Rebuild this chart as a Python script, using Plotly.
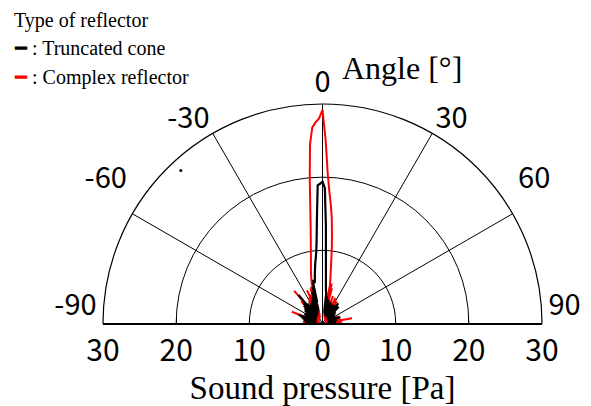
import plotly.graph_objects as go

# ---------------- data ----------------
angles_deg = list(range(-90, 91))  # measurement angles, 1 degree steps

complex_reflector = [
    0.6, 1.2, 0.5, 0.9, 0.4, 2.7, 0.6, 1.0, 0.5, 1.4,   # -90..-81
    2.0, 0.5, 0.8, 0.4, 2.5, 0.7, 1.1, 0.5, 3.2, 0.8,   # -80..-71
    0.6, 4.5, 0.7, 1.2, 0.5, 2.2, 0.6, 1.3, 0.5, 0.9,   # -70..-61
    2.0, 0.6, 1.4, 0.5, 1.0, 2.6, 0.7, 1.3, 0.6, 1.1,   # -60..-51
    3.0, 0.7, 1.2, 3.5, 0.6, 1.5, 4.2, 0.8, 1.0, 5.9,   # -50..-41
    1.0, 0.7, 3.4, 0.8, 1.2, 3.0, 0.7, 1.5, 0.8, 3.6,   # -40..-31
    0.9, 1.4, 4.0, 0.8, 1.6, 5.0, 1.0, 1.3, 4.3, 0.9,   # -30..-21
    1.5, 5.1, 1.2, 5.3, 1.6, 5.7, 6.3, 7.0, 7.6, 8.3,   # -20..-11
    9.1, 10.2, 11.5, 13.3, 16.0, 20.0, 24.5, 26.8, 27.5, 28.0,  # -10..-1
    29.2,                                               # 0
    25.0, 20.5, 18.0, 16.3, 14.5, 12.4, 10.5, 8.6, 7.2, 6.2,    # 1..10
    5.4, 1.2, 5.6, 1.0, 5.0, 0.9, 1.3, 3.0, 0.8, 1.2,   # 11..20
    4.0, 0.8, 1.1, 2.5, 0.7, 1.0, 3.9, 0.7, 1.2, 2.2,   # 21..30
    0.6, 0.9, 3.6, 0.7, 1.0, 2.0, 0.6, 1.1, 0.5, 2.8,   # 31..40
    0.7, 1.0, 0.5, 0.9, 2.4, 0.6, 1.1, 0.5, 0.8, 2.0,   # 41..50
    0.6, 1.0, 0.5, 0.8, 1.8, 0.5, 0.9, 0.4, 0.7, 1.6,   # 51..60
    0.5, 0.9, 0.4, 0.8, 0.5, 2.4, 0.6, 0.9, 0.5, 2.2,   # 61..70
    0.6, 0.9, 0.5, 2.5, 0.6, 1.0, 0.5, 2.6, 0.7, 4.1,   # 71..80
    0.6, 1.0, 0.5, 0.9, 2.7, 0.6, 0.9, 1.6, 0.5, 0.8,   # 81..90
]

truncated_cone = [
    1.1, 1.5, 0.8, 1.3, 2.0, 0.9, 2.4, 1.2, 0.9, 1.4,   # -90..-81
    2.6, 1.0, 1.3, 0.9, 2.8, 1.1, 1.4, 3.0, 1.0, 1.3,   # -80..-71
    3.5, 1.1, 1.5, 0.9, 2.6, 1.2, 1.4, 1.0, 2.8, 1.1,   # -70..-61
    1.5, 1.0, 2.6, 1.2, 1.5, 1.0, 3.0, 1.3, 1.6, 1.1,   # -60..-51
    3.2, 1.2, 1.7, 1.1, 3.5, 1.3, 1.6, 3.8, 1.2, 1.8,   # -50..-41
    5.1, 1.3, 1.7, 3.4, 1.2, 1.8, 1.4, 3.0, 1.3, 1.9,   # -40..-31
    3.2, 1.4, 2.0, 3.3, 1.5, 2.1, 3.5, 1.6, 2.2, 3.9,   # -30..-21
    1.8, 2.4, 4.6, 2.0, 2.6, 5.2, 3.0, 5.6, 6.1, 5.6,   # -20..-11
    6.0, 6.7, 7.4, 8.2, 8.9, 9.8, 11.5, 14.5, 18.9, 19.1,  # -10..-1
    19.4,                                               # 0
    18.5, 13.3, 8.9, 6.7, 5.3, 4.5, 4.2, 1.6, 3.8, 1.4,  # 1..10
    1.7, 3.4, 1.3, 1.6, 3.3, 1.2, 1.5, 2.9, 1.1, 1.4,   # 11..20
    3.1, 1.2, 1.5, 3.0, 1.1, 1.3, 1.0, 2.8, 1.2, 1.4,   # 21..30
    2.9, 1.1, 1.3, 3.0, 1.0, 1.4, 1.2, 3.5, 1.1, 1.3,   # 31..40
    3.0, 1.0, 1.4, 3.2, 1.1, 1.2, 0.9, 2.4, 1.0, 1.2,   # 41..50
    0.9, 2.2, 1.0, 1.1, 0.8, 2.0, 0.9, 1.1, 0.8, 1.9,   # 51..60
    0.9, 1.0, 0.8, 2.0, 0.9, 1.1, 0.8, 1.0, 2.6, 0.9,   # 61..70
    1.0, 0.8, 2.1, 0.9, 1.0, 0.8, 2.0, 0.9, 1.0, 0.8,   # 71..80
    0.9, 1.9, 0.8, 1.0, 0.7, 1.6, 0.9, 0.8, 1.0, 0.7,   # 81..90
]

stray_theta = [-42.8]
stray_r = [28.5]

angle_ticks = [-90, -60, -30, 0, 30, 60, 90]
angle_ticktext = ["-90<br> ", "-60<br> ", "-30", "0", "30", "60<br> ", "90<br> "]
pressure_ticks = [-30, -20, -10, 0, 10, 20, 30]
pressure_ticktext = ["30", "20", "10", "0", "10", "20", "30"]

legend_title = "Type of reflector"
legend_names = ["Truncated cone", "Complex reflector"]
legend_colors = ["black", "red"]

# ---------------- figure ----------------
W, H = 591, 406
x_dom = [103 / W, 542 / W]
y_dom = [1 - 323.5 / H, 1 - 104 / H]

sans = "Noto Sans CJK JP"
serif = "Liberation Serif"

fig = go.Figure()
fig.add_trace(go.Scatterpolar(
    r=complex_reflector, theta=angles_deg, mode="lines",
    line=dict(color="#ff0000", width=2), name="Complex reflector",
    showlegend=False))
fig.add_trace(go.Scatterpolar(
    r=truncated_cone, theta=angles_deg, mode="lines",
    line=dict(color="#000000", width=2.2), name="Truncated cone",
    showlegend=False))
fig.add_trace(go.Scatterpolar(
    r=stray_r, theta=stray_theta, mode="markers",
    marker=dict(color="black", size=3), showlegend=False))

# helper trace so that the cartesian pressure axis is drawn
fig.add_trace(go.Scatter(x=[-30, 30], y=[0, 0], mode="markers",
                         marker=dict(opacity=0), hoverinfo="skip",
                         showlegend=False))

legend_lines = [legend_title] + [
    f"<span style='color:{c}'>━</span> : {n}"
    for n, c in zip(legend_names, legend_colors)
]
legend_y_px = [20, 48, 77]
annotations = [
    dict(text="Angle [°]", xref="paper", yref="paper",
         x=340 / W, y=1 - 68 / H, xanchor="left", yanchor="middle",
         showarrow=False, font=dict(family=serif, size=32, color="black")),
]
for txt, ypx in zip(legend_lines, legend_y_px):
    annotations.append(dict(
        text=txt, xref="paper", yref="paper", x=12 / W, y=1 - ypx / H,
        xanchor="left", yanchor="middle", align="left", showarrow=False,
        font=dict(family=serif, size=20, color="black")))

fig.update_layout(
    width=W, height=H,
    margin=dict(l=0, r=0, t=0, b=0, autoexpand=False),
    paper_bgcolor="white", plot_bgcolor="rgba(0,0,0,0)",
    showlegend=False,
    polar=dict(
        domain=dict(x=x_dom, y=y_dom),
        sector=[0, 180],
        bgcolor="rgba(0,0,0,0)",
        radialaxis=dict(range=[0, 30], tickvals=[10, 20, 30],
                        showticklabels=False, ticks="", showline=False,
                        gridcolor="black", gridwidth=1),
        angularaxis=dict(rotation=90, direction="clockwise",
                         tickmode="array", tickvals=angle_ticks,
                         ticktext=angle_ticktext, ticks="",
                         tickfont=dict(family=sans, size=29, color="black"),
                         showline=True, linecolor="black", linewidth=1.2,
                         gridcolor="black", gridwidth=1),
    ),
    xaxis=dict(domain=x_dom, range=[-30, 30], anchor="y", automargin=False,
               tickmode="array", tickvals=pressure_ticks,
               ticktext=pressure_ticktext, ticks="inside", ticklen=5,
               tickcolor="black", showline=True, linecolor="black",
               linewidth=1.3, showgrid=False, zeroline=False,
               tickfont=dict(family=sans, size=30, color="black"),
               title=dict(text="Sound pressure [Pa]",
                          font=dict(family=serif, size=33, color="black"),
                          standoff=6)),
    yaxis=dict(domain=y_dom, range=[0, 30], visible=False),
    annotations=annotations,
)

fig.write_html("out.html",
               config={"displayModeBar": False},
               post_script="document.body.style.margin='0px';"
                           "document.body.style.overflow='hidden';")
